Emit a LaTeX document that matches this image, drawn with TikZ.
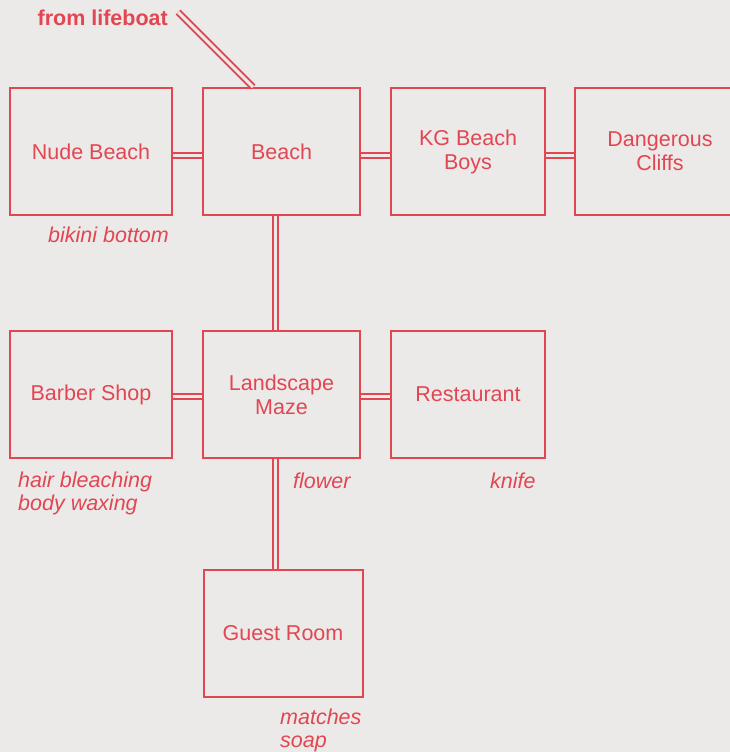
\documentclass[tikz,border=0pt]{standalone}
\usepackage{fontspec}
\setmainfont{Liberation Sans}
\definecolor{ink}{RGB}{226,70,82}
\definecolor{paper}{RGB}{236,234,232}
\begin{document}
\begin{tikzpicture}[x=1pt,y=-1pt,
  room/.style={draw=ink,line width=2pt,inner sep=0pt,minimum height=127pt,
    text=ink,align=center,font=\fontsize{21.5}{24}\selectfont},
  dbl/.style={draw=ink,double=paper,double distance=3pt,line width=2pt},
  note/.style={text=ink,align=left,inner sep=0pt,font=\fontsize{21.5}{23}\selectfont\itshape}]
\fill[paper] (0,0) rectangle (730,752);
\useasboundingbox (0,0) rectangle (730,752);
\node[room,minimum width=162pt] (nude) at (91,151.5) {Nude Beach};
\node[room,minimum width=157pt] (beach) at (281.5,151.5) {Beach};
\node[room,minimum width=154pt] (kg) at (468,151.5) {KG Beach\\Boys};
\node[room,minimum width=170pt] (cliffs) at (660,151.5) {Dangerous\\Cliffs};
\node[room,minimum width=162pt] (barber) at (91,394.5) {Barber Shop};
\node[room,minimum width=157pt] (maze) at (281.5,394.5) {Landscape\\Maze};
\node[room,minimum width=154pt] (rest) at (468,394.5) {Restaurant};
\node[room,minimum width=159pt] (guest) at (283,633.5) {Guest Room};
\draw[dbl] ([yshift=-4pt]nude.east) -- ([yshift=-4pt]beach.west);
\draw[dbl] ([yshift=-4pt]beach.east) -- ([yshift=-4pt]kg.west);
\draw[dbl] ([yshift=-4pt]kg.east) -- ([yshift=-4pt]cliffs.west);
\draw[dbl] ([yshift=-2pt]barber.east) -- ([yshift=-2pt]maze.west);
\draw[dbl] ([yshift=-2pt]maze.east) -- ([yshift=-2pt]rest.west);
\draw[dbl] ([xshift=-6.5pt]beach.south) -- ([xshift=-6.5pt]maze.north);
\draw[dbl] ([xshift=-6.5pt]maze.south) -- ([xshift=-8pt]guest.north);
\coordinate (lb) at (178,12);
\draw[dbl] (lb) -- ([xshift=-28.5pt]beach.north);
\node[text=ink,inner sep=0pt,anchor=base east,font=\fontsize{21.5}{24}\selectfont\bfseries] (from) at (168,26) {from lifeboat};
\node[note,anchor=base west] (n1) at (48,242) {bikini bottom};
\node[note,anchor=base west] (n2) at (18,510) {hair bleaching\\body waxing};
\node[note,anchor=base west] (n3) at (293,488) {flower};
\node[note,anchor=base west] (n4) at (490,488) {knife};
\node[note,anchor=base west] (n5) at (280,747) {matches\\soap};
\end{tikzpicture}
\end{document}
